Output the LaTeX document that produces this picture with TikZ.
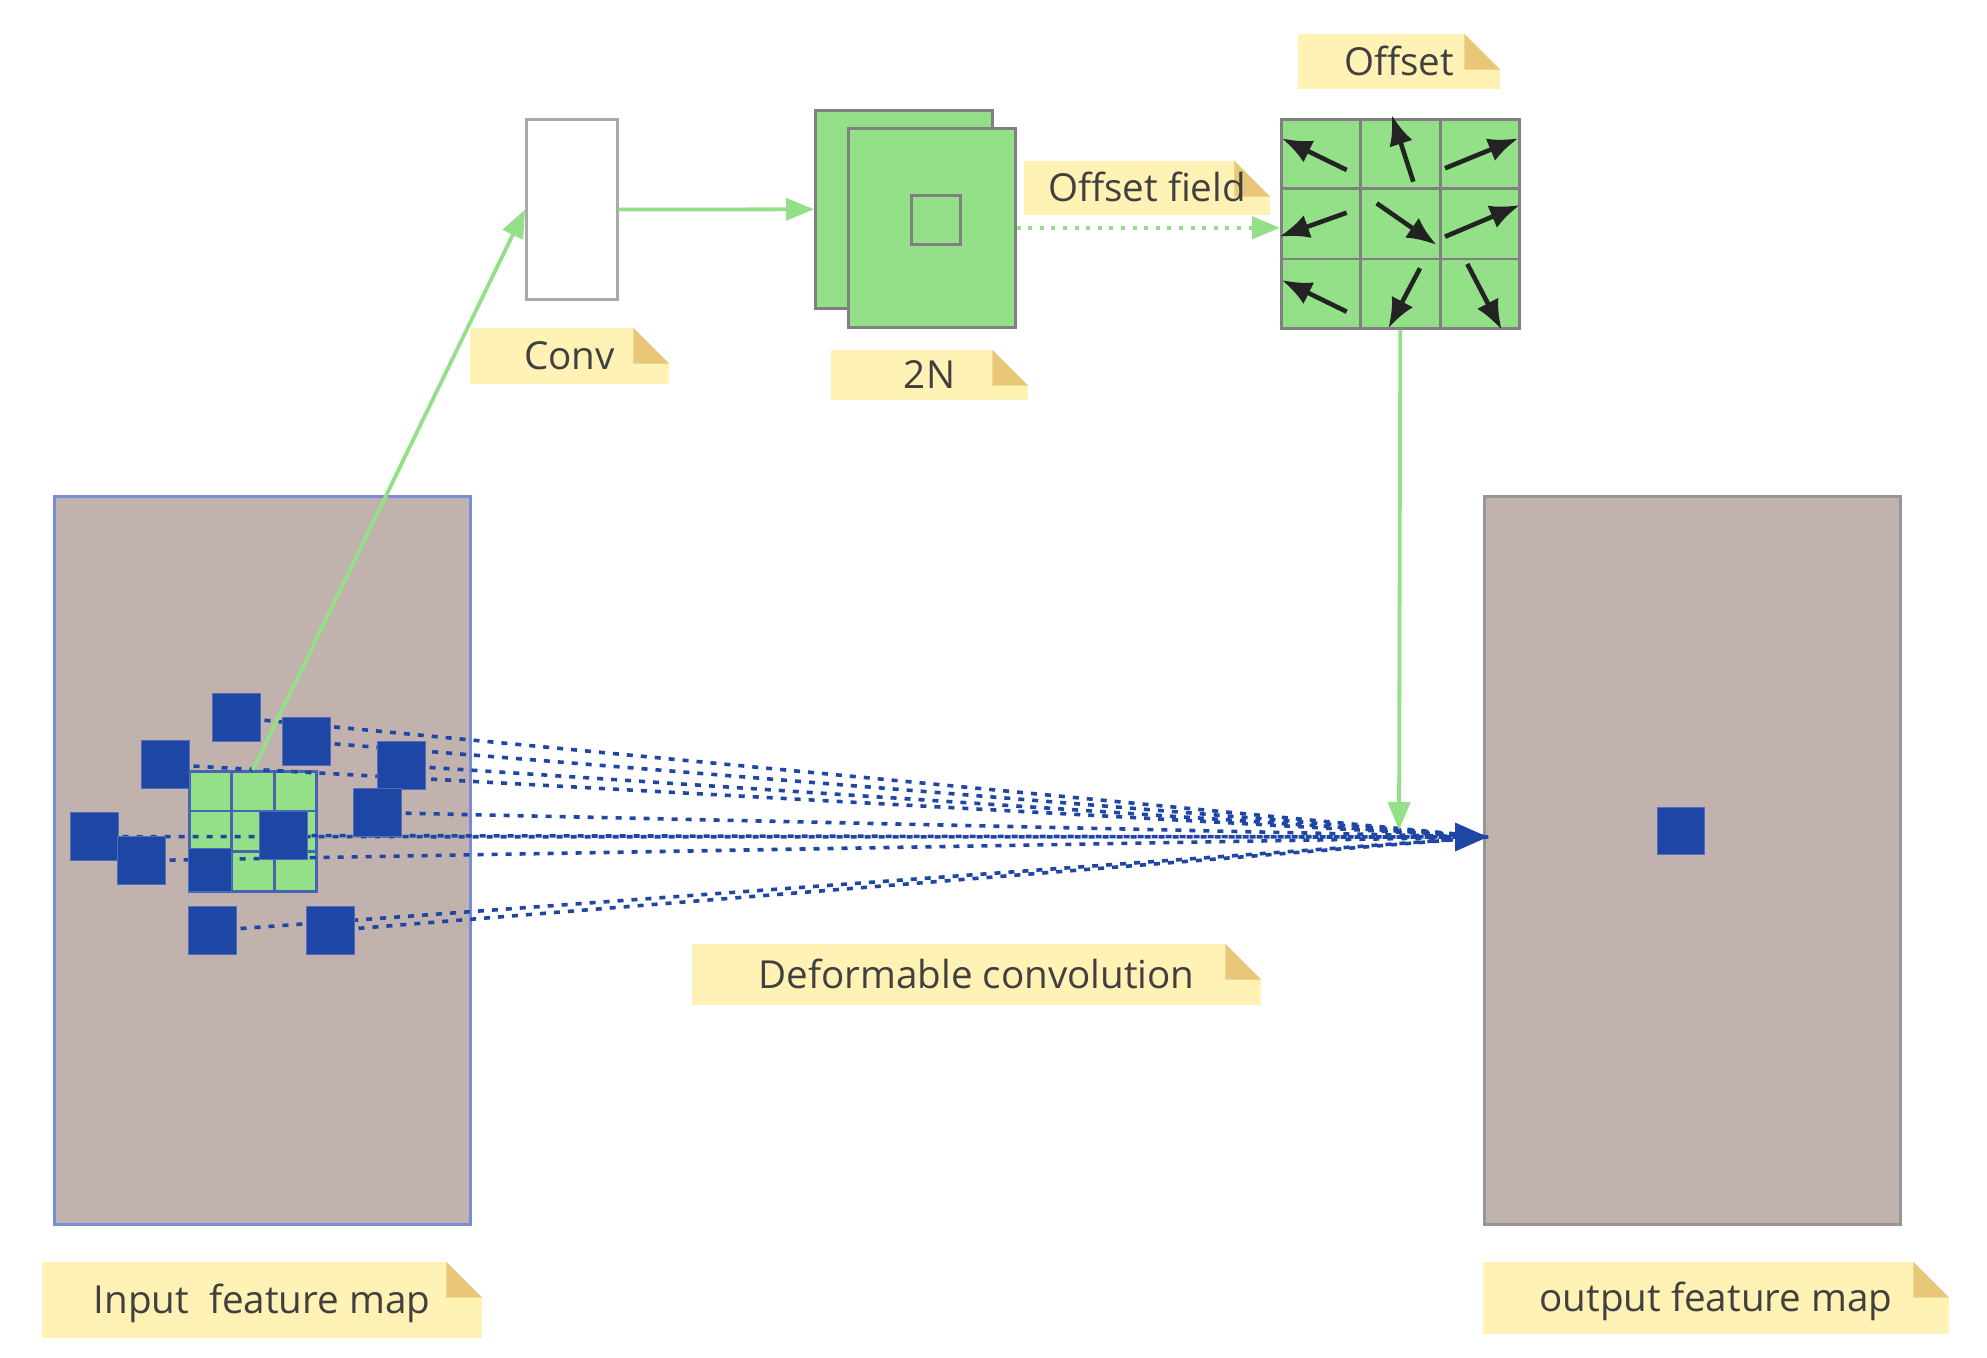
\documentclass[tikz,border=0pt]{standalone}
\usepackage{fontspec}
\setmainfont{Open Sans}
\usetikzlibrary{arrows.meta,calc}

\definecolor{mapfill}{RGB}{193,178,174}
\definecolor{inborder}{RGB}{120,140,215}
\definecolor{outborder}{RGB}{150,150,150}
\definecolor{lgreen}{RGB}{147,224,136}
\definecolor{grayline}{RGB}{128,128,128}
\definecolor{convline}{RGB}{170,170,170}
\definecolor{sblue}{RGB}{30,70,165}
\definecolor{sborder}{RGB}{80,110,190}
\definecolor{kline}{RGB}{70,100,175}
\definecolor{noteyellow}{RGB}{255,242,180}
\definecolor{notefold}{RGB}{232,200,120}
\definecolor{notetext}{RGB}{64,64,64}
\definecolor{arrowdark}{RGB}{35,35,35}

\pgfdeclarelayer{bg}
\pgfdeclarelayer{mid}
\pgfsetlayers{bg,mid,main}

% note with folded corner: name, centre, width, height, text
\newcommand{\notetag}[5]{%
  \node[notebg, minimum width=#3, minimum height=#4] (#1) at (#2) {};
  \fill[notefold] ($(#1.north east)+(-36,0)$) -- ($(#1.north east)+(-36,36)$) -- ($(#1.north east)+(0,36)$) -- cycle;
  \fill[white] ($(#1.north east)+(-36,0)$) -- (#1.north east) -- ($(#1.north east)+(0,36)$) -- cycle;
  \node[notetxt] (#1-t) at (#1.center) {#5};}

\begin{document}
\begin{tikzpicture}[x=0.5pt,y=0.5pt,yscale=-1,
  fmap/.style={fill=mapfill, line width=1.5pt, anchor=north west, inner sep=0pt, minimum width=208pt, minimum height=364pt},
  layer/.style={draw=grayline, fill=lgreen, line width=1.3pt, anchor=north west, inner sep=0pt},
  sample/.style={draw=sborder, fill=sblue, line width=0.6pt, anchor=north west, inner sep=0pt, minimum size=24pt},
  greenarrow/.style={draw=lgreen, line width=1.9pt, -{Triangle[length=14pt,width=11pt]}},
  sampline/.style={draw=sblue, line width=1.8pt, dash pattern=on 3pt off 4pt},
  offarrow/.style={draw=arrowdark, line width=2.3pt, -{Latex[length=15pt,width=12pt]}},
  notebg/.style={fill=noteyellow, inner sep=0pt},
  notetxt/.style={text=notetext, inner sep=0pt, font=\fontsize{19.3pt}{23pt}\selectfont, text height=1.55em, text depth=0.186em}]
\useasboundingbox (0,0) rectangle (1987,1358);

%feature maps
\begin{pgfonlayer}{bg}
\node[fmap, draw=inborder] (inmap) at (53,495) {};
\node[fmap, draw=outborder] (outmap) at (1483,495) {};
%kernel grid
\node[fill=lgreen, draw=kline, line width=1.3pt, anchor=north west, inner sep=0pt, minimum width=63.5pt, minimum height=60pt] (kgrid) at (188,770) {};
\foreach \k in {1,2} {
  \draw[kline, line width=1.3pt] ($(kgrid.north west)!\k/3!(kgrid.north east)$) -- ($(kgrid.south west)!\k/3!(kgrid.south east)$);
  \draw[kline, line width=1.3pt] ($(kgrid.north west)!\k/3!(kgrid.south west)$) -- ($(kgrid.north east)!\k/3!(kgrid.south east)$);
}
\end{pgfonlayer}

%sampling points
\foreach \n/\x/\y in {1/212/693, 2/282/717, 3/141/740, 4/377/741, 5/353/788, 6/70/812, 7/117/836, 8/259/811, 10/188/906, 11/306/906}
  \node[sample] (s\n) at (\x,\y) {};
\node[sample, minimum size=21.5pt] (s9) at (188,848) {};
\node[sample, minimum size=23.5pt] (outpix) at (1657,807) {};

\coordinate (target) at (1488,837);
\coordinate (hit) at (1399,830);

\begin{pgfonlayer}{mid}
\foreach \n in {1,2,3,4,5,7,8,10,11}
  \draw[sampline] (s\n.center) -- (target);
\draw[sampline, -{Triangle[length=16.5pt,width=14pt]}] (s6.center) -- (target);
\end{pgfonlayer}

%conv and offset field
\node[draw=convline, fill=white, line width=1.6pt, anchor=north west, inner sep=0pt, minimum width=45.5pt, minimum height=90pt] (conv) at (525,118) {};
\node[layer, minimum width=88.5pt, minimum height=99pt] (back2n) at (814,109) {};
\node[layer, minimum width=83.5pt, minimum height=99.5pt] (front2n) at (847,127) {};
\node[layer, minimum size=24.5pt] (inner2n) at (910,194) {};

%offset grid
\node[layer, minimum width=119pt, minimum height=104.5pt] (offgrid) at (1280,118) {};
\foreach \k in {1,2} {
  \draw[grayline, line width=1.3pt] ($(offgrid.north west)!\k/3!(offgrid.north east)$) -- ($(offgrid.south west)!\k/3!(offgrid.south east)$);
  \draw[grayline, line width=1.3pt] ($(offgrid.north west)!\k/3!(offgrid.south west)$) -- ($(offgrid.north east)!\k/3!(offgrid.south east)$);
}
\foreach \ax/\ay/\bx/\by in {1346.7/170/1281.7/138.3, 1413.3/181.7/1391.7/115, 1445/168.3/1518.3/138.3,
  1346.7/212.7/1279.3/236.7, 1376.7/203.3/1436.7/245, 1445/236.7/1520/205,
  1346.7/311.7/1281.7/280, 1420/268.3/1388.3/328.3, 1467.3/264/1501.7/330}
  \draw[offarrow] (\ax,\ay) -- (\bx,\by);

%connectors
\draw[greenarrow] (kgrid.north) -- (conv.west);
\draw[greenarrow] (conv.east) -- (back2n.west);
\draw[greenarrow, dash pattern=on 2pt off 3.8pt, line width=2.2pt] (front2n.east) -- (front2n.east -| offgrid.west);
\draw[greenarrow] (offgrid.south) -- (hit);

% Text Nodes
\notetag{convtag}{569.5,356}{99.5pt}{28pt}{Conv}
\notetag{tag2n}{929.5,375}{98.5pt}{25pt}{2N}
\notetag{fieldtag}{1147,188}{123pt}{27pt}{Offset field}
\notetag{offtag}{1399,61.5}{101pt}{27.5pt}{Offset}
\notetag{deftag}{976.5,974.5}{284.5pt}{30.5pt}{Deformable convolution}
\notetag{intag}{262,1300}{220pt}{38pt}{Input~~feature map}
\notetag{outtag}{1716,1298}{233pt}{36pt}{output feature map}

\end{tikzpicture}
\end{document}
